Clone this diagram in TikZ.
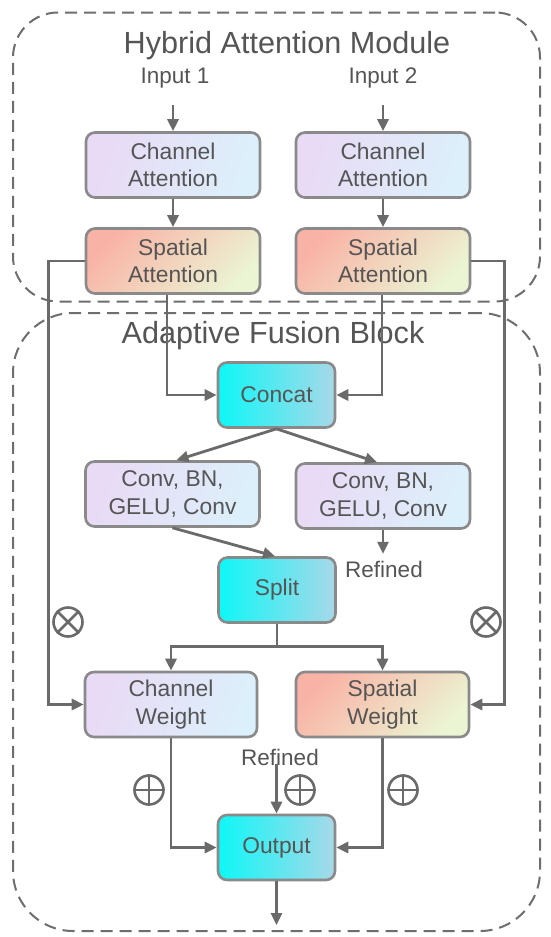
\documentclass[tikz,border=0pt]{standalone}
\usepackage{fontspec}
\setmainfont{Liberation Sans}
\usetikzlibrary{arrows.meta,positioning,calc}
\definecolor{textgray}{HTML}{555555}
\definecolor{linegray}{HTML}{6A6A6A}
\definecolor{bordergray}{HTML}{8A8A8A}
\definecolor{dashgray}{HTML}{6E6E6E}
\definecolor{lav}{HTML}{E9DAF5}
\definecolor{lblue}{HTML}{DCF0FB}
\definecolor{salmon}{HTML}{F9B3A6}
\definecolor{lgreen}{HTML}{EBF4D3}
\definecolor{cyanL}{HTML}{0EF7F7}
\definecolor{cyanR}{HTML}{A8D8E8}
\tikzset{
  basebox/.style={rounded corners=9pt, draw=bordergray, line width=2.6pt,
    minimum width=174pt, minimum height=65pt, align=center, inner sep=0pt,
    font=\fontsize{22.8}{27.5}\selectfont, text=textgray},
  chbox/.style={basebox, left color=lav, right color=lblue, shading angle=70},
  spbox/.style={basebox, top color=salmon, bottom color=lgreen, shading angle=45},
  cybox/.style={basebox, minimum width=117pt, left color=cyanL, right color=cyanR},
  arr/.style={draw=linegray, line width=2.8pt, -{Triangle[length=12pt,width=11pt]}},
  plainline/.style={draw=linegray, line width=2.6pt},
  group/.style={draw=dashgray, line width=2pt, dash pattern=on 12pt off 7pt},
  title/.style={font=\fontsize{30.6}{34}\selectfont, text=textgray, anchor=base, inner sep=0pt},
  lbl/.style={font=\fontsize{22.5}{27}\selectfont, text=textgray, anchor=base, inner sep=3pt},
  opc/.style={circle, draw=linegray, line width=2.6pt, minimum size=29pt, inner sep=0pt},
}
\begin{document}
\begin{tikzpicture}[x=1pt,y=-1pt]
\fill[white] (0,0) rectangle (550,937);
\useasboundingbox (0,0) rectangle (550,937);
% group frames
\node[group, rounded corners=45pt, minimum width=527pt, minimum height=289pt] (ham) at (276.5,157) {};
\node[group, rounded corners=60pt, minimum width=527pt, minimum height=618pt] (afb) at (276.5,622) {};
\node[title] (hamt) at (287,53) {Hybrid Attention Module};
\node[title] (afbt) at (273,343) {Adaptive Fusion Block};
% inputs
\node[lbl] (in1) at (175,83) {Input 1};
\node[lbl] (in2) at (383,83) {Input 2};
% boxes
\node[chbox] (ca1) at (173,165) {Channel\\Attention};
\node[chbox] (ca2) at (383,165) {Channel\\Attention};
\node[spbox] (sa1) at (173,261) {Spatial\\Attention};
\node[spbox] (sa2) at (383,261) {Spatial\\Attention};
\node[cybox] (cat) at (276.5,395) {Concat};
\node[chbox] (cv1) at (172.5,494) {Conv, BN,\\GELU, Conv};
\node[chbox] (cv2) at (383,496) {Conv, BN,\\GELU, Conv};
\node[cybox] (spl) at (277,590) {Split};
\node[lbl] (ref1) at (384,577) {Refined};
\node[chbox, minimum width=172pt] (cw) at (171,704.5) {Channel\\Weight};
\node[spbox, minimum width=173pt] (sw) at (382.5,704.5) {Spatial\\Weight};
\node[lbl] (ref2) at (280,765) {Refined};
\node[cybox] (out) at (276.5,847.5) {Output};
\coordinate (outend) at (276.5,925);
% operator symbols
\node[opc] (m1) at (68,622) {};
\node[opc] (m2) at (486,622) {};
\node[opc] (p1) at (149,790) {};
\node[opc] (p2) at (300,790) {};
\node[opc] (p3) at (403,790) {};
\foreach \n in {m1,m2}{\draw[plainline] (\n.north west) -- (\n.south east) (\n.north east) -- (\n.south west);}
\foreach \n in {p1,p2,p3}{\draw[plainline] (\n.north) -- (\n.south) (\n.west) -- (\n.east);}
% connectors
\draw[arr] ([yshift=-14pt]in1.south -| ca1.north) -- (ca1.north);
\draw[arr] ([yshift=-14pt]in2.south -| ca2.north) -- (ca2.north);
\draw[arr] (ca1) -- (sa1);
\draw[arr] (ca2) -- (sa2);
\draw[arr] (sa1.west) -- ++(-36,0) |- (cw.west);
\draw[arr] (sa2.east) -- ++(33,0) |- (sw.east);
\draw[arr] ([xshift=-6pt]sa1.south) |- (cat.west);
\draw[arr] ([xshift=-1pt]sa2.south) |- (cat.east);
\draw[arr] (cat.south) -- ([xshift=4pt]cv1.north);
\draw[arr] (cat.south) -- ([xshift=-6pt]cv2.north);
\draw[arr] (cv1.south) -- ([xshift=-2pt]spl.north);
\draw[arr] (cv2.south) -- ++(0,24);
\draw[arr] (spl.south) -- ++(0,23) -| (cw.north);
\draw[arr] (spl.south) -- ++(0,23) -| (sw.north);
\draw[arr] (cw.south) |- (out.west);
\draw[arr] (sw.south) |- (out.east);
\draw[arr] ([yshift=4pt]ref2.south -| out.north) -- (out.north);
\draw[arr] (out.south) -- (outend);
\end{tikzpicture}
\end{document}
